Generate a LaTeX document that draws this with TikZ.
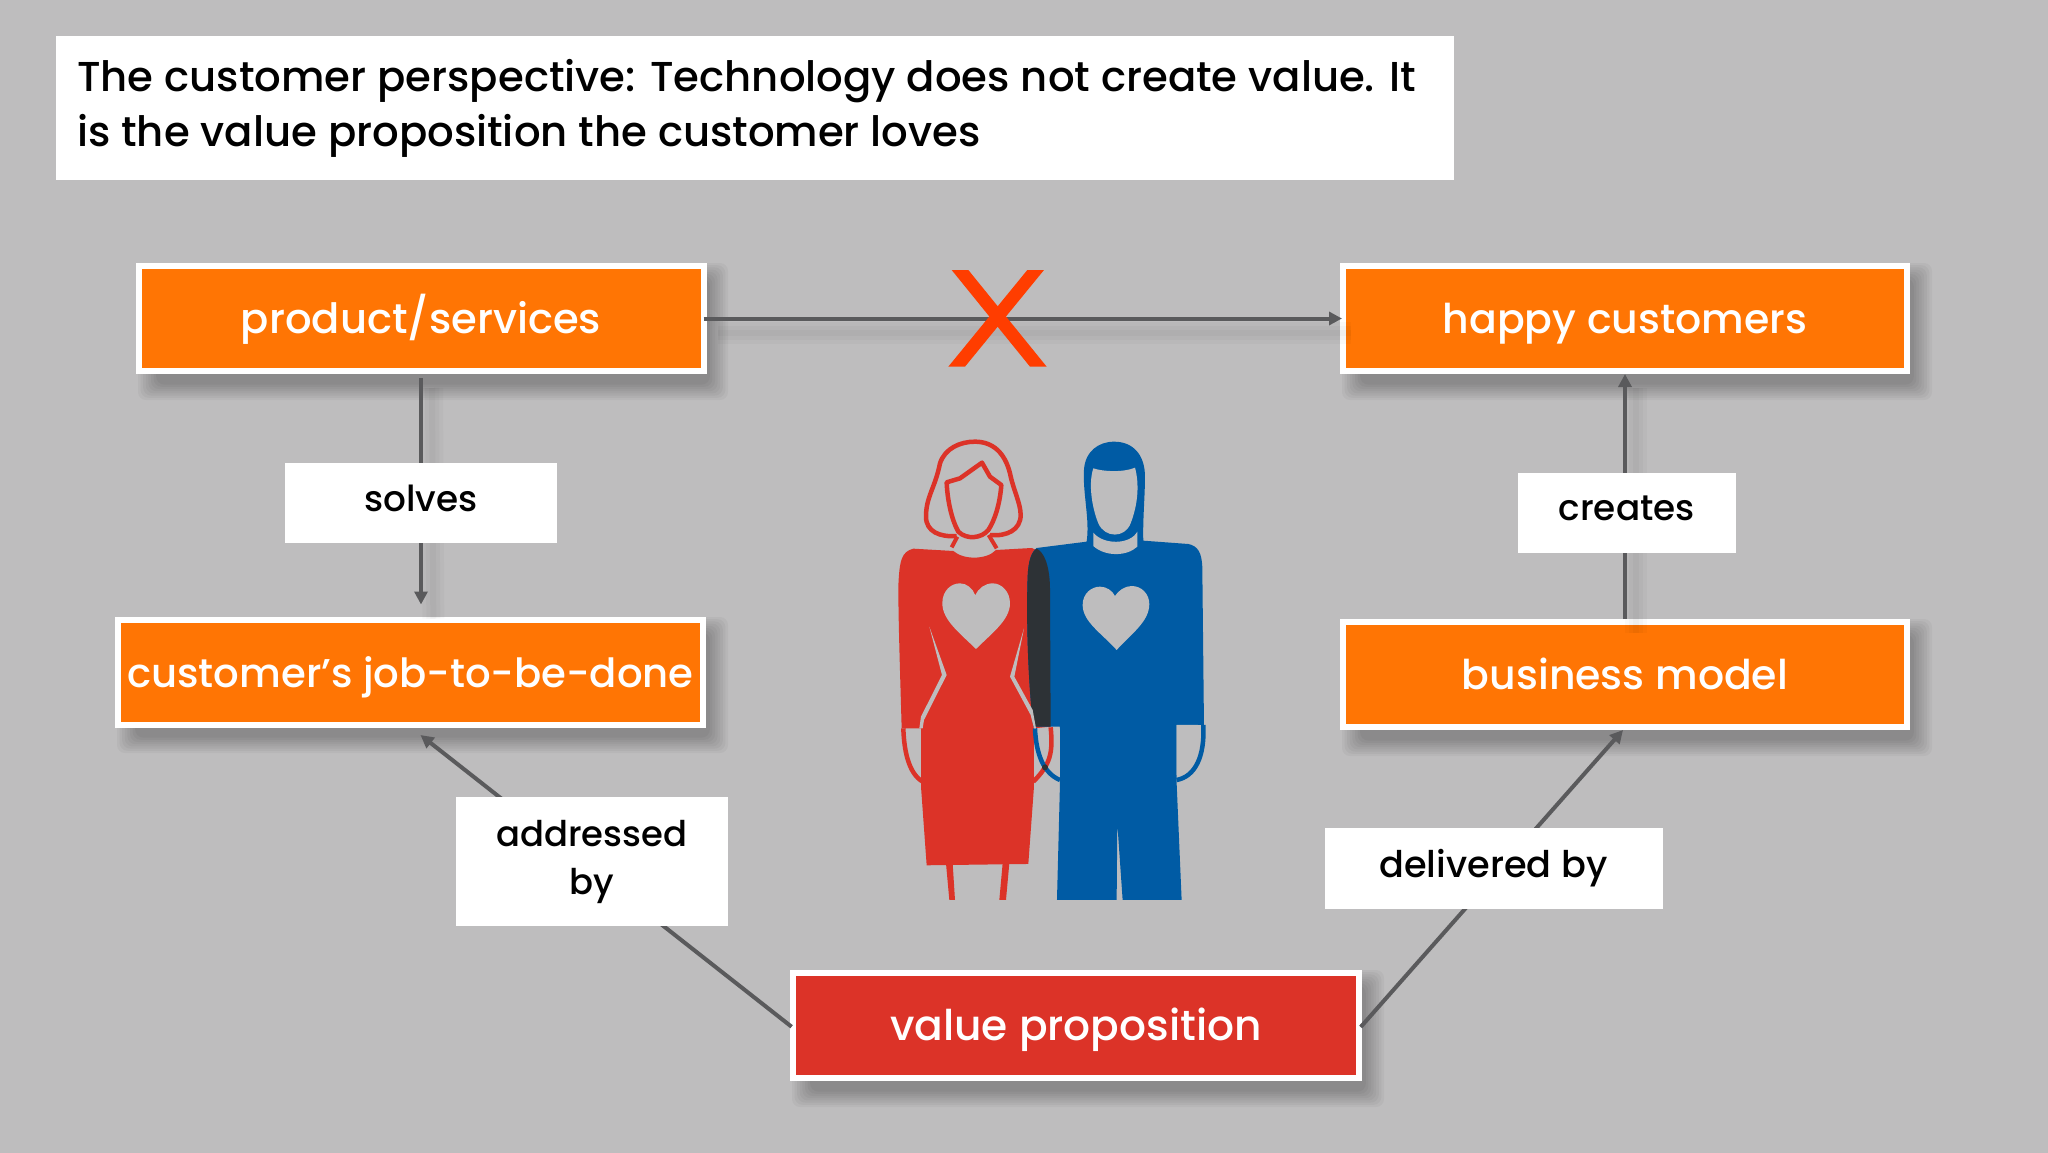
\documentclass[tikz,border=0pt]{standalone}
\usepackage{fontspec}
\setmainfont{Poppins}[UprightFont=* Medium]
\usetikzlibrary{arrows.meta,calc}
\definecolor{bgc}{HTML}{BEBDBE}
\definecolor{orangec}{HTML}{FF7504}
\definecolor{redc}{HTML}{DC3328}
\definecolor{bluec}{HTML}{005BA4}
\definecolor{darkc}{HTML}{2D3236}
\definecolor{linec}{HTML}{5A5A5C}
\definecolor{xc}{HTML}{FF3D00}
\newcommand\softshadow[4]{%
  \foreach \i in {0,...,7}{%
    \fill[black,opacity=.035,rounded corners=8pt]
      ({#1+12-10+\i*2.6},{#2+12-12+\i*2.2}) rectangle ({#3+12+10-\i*2.6},{#4+14+12-\i*2.2});
  }}
\newcommand\lineshadow[2]{%
  \foreach \w in {6,14,22}{%
    \draw[black,opacity=.025,line width=\w pt] ($(#1)+(11,14)$) -- ($(#2)+(11,14)$);
  }}
\tikzset{
  x=1pt,y=-1pt,
  boxnode/.style={draw=white,line width=6pt,text=white,font=\fontsize{41}{48}\selectfont,
    minimum width=#1,minimum height=105pt,inner sep=0pt,text height=39pt,text depth=9pt},
  labelnode/.style={fill=white,text=black,font=\fontsize{35.8}{48}\selectfont,align=center,inner sep=0pt},
  conn/.style={draw=linec,line width=4pt,-{Triangle[length=13pt,width=13pt]}},
}
\begin{document}
\begin{tikzpicture}
\useasboundingbox (0,0) rectangle (2048,1152);
\fill[bgc] (-5,-5) rectangle (2053,1157);
% shadows
\softshadow{136}{263}{706}{374}
\softshadow{115}{617}{706}{727}
\softshadow{1340}{263}{1910}{374}
\softshadow{1340}{619}{1910}{730}
\softshadow{790}{970}{1362}{1081}
% title
\node[fill=white,minimum width=1398pt,minimum height=144pt,inner sep=0pt] (titlebox) at (755,108) {};
\node[anchor=west,align=left,text=black,inner sep=0pt,font=\fontsize{41.8}{54.8}\selectfont] (title) at (77,108)
  {The customer perspective: Technology does not create value. It\\is the value proposition the customer loves};
% boxes
\node[boxnode=565pt,fill=orangec,font=\fontsize{41.7}{48}\selectfont] (prod) at (421,318.5) {product/services};
\node[boxnode=585pt,fill=orangec,font=\fontsize{40.2}{48}\selectfont] (job) at (410.5,672) {customer’s job-to-be-done};
\node[boxnode=564pt,fill=orangec] (happy) at (1625,318.5) {happy customers};
\node[boxnode=564pt,fill=orangec] (bm) at (1625,674.5) {business model};
\node[boxnode=566pt,fill=redc,font=\fontsize{42.3}{48}\selectfont] (vp) at (1076,1025.5) {value proposition};
% connector ends
\coordinate (jobtip) at ($(job.north west)!0.52!(job.north east)+(0,-12)$);
\coordinate (jobin) at (420.5,735);
\coordinate (bmin) at (1623,730);
% connector shadows
\lineshadow{prod.east}{happy.west}
\lineshadow{prod.south}{jobtip}
\lineshadow{bm.north}{happy.south}
% connectors
\draw[conn,shorten <=-3pt,shorten >=-2pt] (prod.east) -- (happy.west);
\draw[conn,shorten <=4pt] (prod.south) -- (prod.south |- jobtip);
\draw[conn] (bm.north) -- (happy.south);
\draw[conn,shorten <=-2pt] (vp.west) -- (jobin);
\draw[conn,shorten <=-2pt] (vp.east) -- (bmin);
% labels
\node[labelnode,minimum width=272.5pt,minimum height=80pt] (solves) at (421.2,502.7) {\raisebox{9pt}{solves}};
\node[labelnode,minimum width=218.5pt,minimum height=80pt] (creates) at (1626.8,512.6) {\raisebox{9pt}{creates}};
\node[labelnode,minimum width=271.5pt,minimum height=129pt,font=\fontsize{35.4}{48}\selectfont] (addr) at (591.8,861.5) {addressed\\by};
\node[labelnode,minimum width=338pt,minimum height=81pt,font=\fontsize{36.7}{48}\selectfont] (deliv) at (1493.5,868.5) {\raisebox{9pt}{delivered by}};
% X mark
\begin{scope}[shift={(900,240)},x=0.3333pt,y=-0.3333pt]
  \fill[xc] (155,90) -- (205,90) -- (440,380) -- (390,380) -- cycle;
  \fill[xc] (382,90) -- (432,90) -- (195,380) -- (145,380) -- cycle;
\end{scope}
% people
\begin{scope}[shift={(860,420)},x=0.3333pt,y=-0.3333pt]
  % woman: hair, face, collar
  \draw[redc,line width=4.5pt,line join=round]
    (290,348) .. controls (240,352) and (198,335) .. (198,290)
    .. controls (198,230) and (225,205) .. (240,130)
    .. controls (255,85) and (300,65) .. (345,65)
    .. controls (400,65) and (435,100) .. (450,160)
    .. controls (460,210) and (482,250) .. (482,285)
    .. controls (482,330) and (440,350) .. (390,345);
  \draw[redc,line width=4.5pt,line join=round]
    (260,187) -- (300,175) -- (366,128) -- (390,170) -- (424,195)
    .. controls (420,250) and (405,300) .. (385,330)
    .. controls (365,355) and (320,360) .. (295,335)
    .. controls (275,300) and (262,240) .. (260,187) -- cycle;
  \draw[redc,line width=4pt] (292,350) -- (275,382);
  \draw[redc,line width=4pt] (386,345) -- (410,385);
  % woman legs
  \fill[redc] (258,1330) -- (268,1440) -- (285,1440) -- (278,1330) -- cycle;
  \fill[redc] (428,1330) -- (418,1440) -- (438,1440) -- (448,1330) -- cycle;
  % woman body
  \fill[redc]
    (280,393) .. controls (310,420) and (380,420) .. (408,390)
    -- (515,384) .. controls (550,395) and (568,430) .. (570,500)
    -- (572,920) -- (522,925)
    -- (522,1100) -- (505,1332) -- (200,1336) -- (183,1100) -- (183,925)
    -- (125,925) .. controls (120,750) and (115,600) .. (115,500)
    .. controls (118,420) and (125,395) .. (160,386) -- cycle;
  % woman hand outline
  \draw[redc,line width=4.5pt] (130,925) .. controls (132,990) and (145,1060) .. (188,1085);
  % man body
  \fill[bluec]
    (672,150) .. controls (675,95) and (715,65) .. (762,65)
    .. controls (820,65) and (855,105) .. (855,170)
    .. controls (855,230) and (848,300) .. (850,362)
    -- (985,372) .. controls (1015,378) and (1025,400) .. (1027,440)
    -- (1032,915) -- (950,915) -- (950,1090) -- (965,1440) -- (788,1440)
    -- (772,1210) -- (770,1440) -- (591,1440) -- (600,1090) -- (600,920)
    -- (520,920) .. controls (505,800) and (498,600) .. (503,470)
    .. controls (505,420) and (515,395) .. (530,384)
    -- (680,365) .. controls (690,300) and (668,220) .. (672,150) -- cycle;
  % overlap of the arms
  \fill[darkc] (530,386) .. controls (515,395) and (505,420) .. (503,470)
    .. controls (498,600) and (505,800) .. (520,920) -- (572,920) -- (570,500)
    .. controls (568,430) and (550,395) .. (530,386) -- cycle;
  % man face and collar
  \fill[bgc] (700,145) .. controls (730,155) and (790,158) .. (825,143)
    .. controls (838,190) and (835,250) .. (812,310)
    .. controls (795,355) and (735,355) .. (715,310)
    .. controls (695,260) and (685,190) .. (700,145) -- cycle;
  \fill[bgc] (700,338) -- (700,378) .. controls (735,410) and (800,410) .. (832,380)
    -- (832,335) .. controls (810,375) and (730,375) .. (700,338) -- cycle;
  % man hands
  \fill[bgc] (950,915) -- (1014,915) .. controls (1015,990) and (995,1050) .. (950,1065) -- cycle;
  \draw[bluec,line width=4.5pt] (1030,915) .. controls (1035,1010) and (1005,1070) .. (950,1080);
  \fill[bgc] (528,925) -- (600,925) -- (600,1075) -- (550,1060) -- (528,1000) -- cycle;
  \draw[redc,line width=4.5pt] (572,922) .. controls (580,1000) and (570,1035) .. (520,1085);
  \draw[bluec,line width=4.5pt] (525,925) .. controls (528,1000) and (550,1060) .. (600,1080);
  \fill[darkc] (555,1042) circle (9);
  % gaps in the dress
  \fill[bgc] (208,620) -- (260,765) -- (192,900) -- (188,925) -- (178,925) -- (183,890) -- (246,765) -- cycle;
  \fill[bgc] (492,625) -- (450,770) -- (512,885) -- (522,925) -- (528,925) -- (518,870) -- (463,770) -- cycle;
  % hearts
  \fill[bgc] (348,687) .. controls (300,640) and (247,600) .. (247,550)
    .. controls (247,510) and (275,490) .. (300,490)
    .. controls (320,490) and (338,505) .. (346,526)
    .. controls (355,505) and (375,490) .. (398,490)
    .. controls (425,490) and (450,515) .. (450,550)
    .. controls (450,600) and (395,640) .. (348,687) -- cycle;
  \fill[bgc] (770,690) .. controls (725,640) and (668,605) .. (668,555)
    .. controls (668,520) and (695,500) .. (720,500)
    .. controls (740,500) and (757,512) .. (765,528)
    .. controls (775,512) and (795,498) .. (815,498)
    .. controls (845,498) and (868,522) .. (868,552)
    .. controls (868,605) and (815,640) .. (770,690) -- cycle;
\end{scope}
\end{tikzpicture}
\end{document}
